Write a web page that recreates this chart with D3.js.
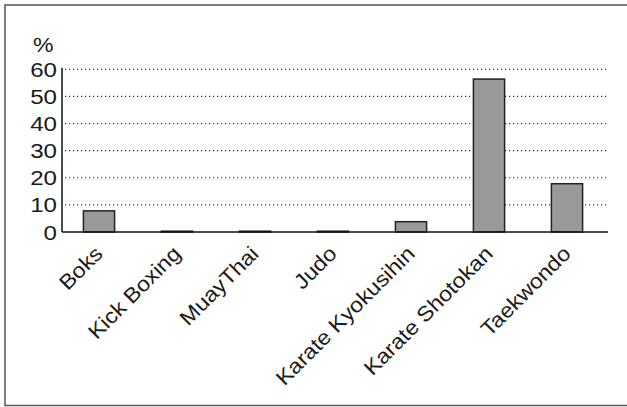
<!DOCTYPE html>
<html>
<head>
<meta charset="utf-8">
<script src="https://cdn.jsdelivr.net/npm/d3@7"></script>
<style>
  html, body { margin: 0; padding: 0; background: #fff; }
  text { font-family: "Liberation Sans", Arial, Helvetica, sans-serif; fill: #1a1a1a; }
</style>
</head>
<body>
<svg id="chart" width="627" height="407"></svg>
<script>
const categories = ["Boks", "Kick Boxing", "MuayThai", "Judo", "Karate Kyokusihin", "Karate Shotokan", "Taekwondo"];
const values = [7.8, 0.3, 0.3, 0.3, 3.8, 56.4, 17.8];
const yTicks = [0, 10, 20, 30, 40, 50, 60];
const yUnit = "%";

const svg = d3.select("#chart");

// outer frame
svg.append("rect")
  .attr("x", 5).attr("y", 5).attr("width", 640).attr("height", 400.5)
  .attr("fill", "none").attr("stroke", "#555").attr("stroke-width", 1.5);

const x = d3.scaleBand().domain(categories).range([60, 606]).paddingInner(0.6).paddingOuter(0.3);
const y = d3.scaleLinear().domain([0, 60]).range([232, 69.3]);

// gridlines
svg.append("g").selectAll("line").data(yTicks.filter(d => d > 0)).join("line")
  .attr("x1", 65).attr("x2", 608)
  .attr("y1", d => y(d)).attr("y2", d => y(d))
  .attr("stroke", "#333").attr("stroke-width", 1.2)
  .attr("stroke-dasharray", "1.2,2.8");

// bars
svg.append("g").selectAll("rect").data(values).join("rect")
  .attr("x", (d, i) => x(categories[i]))
  .attr("width", x.bandwidth())
  .attr("y", d => y(d))
  .attr("height", d => y(0) - y(d))
  .attr("fill", "#999")
  .attr("stroke", "#222").attr("stroke-width", 1.5);

// axes lines
svg.append("line").attr("x1", 62).attr("x2", 62).attr("y1", y(60) - 1.5).attr("y2", y(0))
  .attr("stroke", "#111").attr("stroke-width", 1.5);
svg.append("line").attr("x1", 62).attr("x2", 608).attr("y1", y(0)).attr("y2", y(0))
  .attr("stroke", "#111").attr("stroke-width", 1.5);

// y tick labels
svg.append("g").selectAll("text").data(yTicks).join("text")
  .attr("transform", d => `translate(57,${y(d)}) scale(1.15,1)`)
  .attr("dy", "0.36em")
  .attr("text-anchor", "end")
  .attr("font-size", 21)
  .text(d => d);

svg.append("text").attr("transform", "translate(33,52) scale(1.1,1)").attr("font-size", 21).text(yUnit);

// x labels
svg.append("g").selectAll("text").data(categories).join("text")
  .attr("text-anchor", "end")
  .attr("font-size", 21)
  .attr("transform", d => `translate(${x(d) + x.bandwidth() / 2 + 5},255) rotate(-45) scale(1.1,1)`)
  .text(d => d);
</script>
</body>
</html>
